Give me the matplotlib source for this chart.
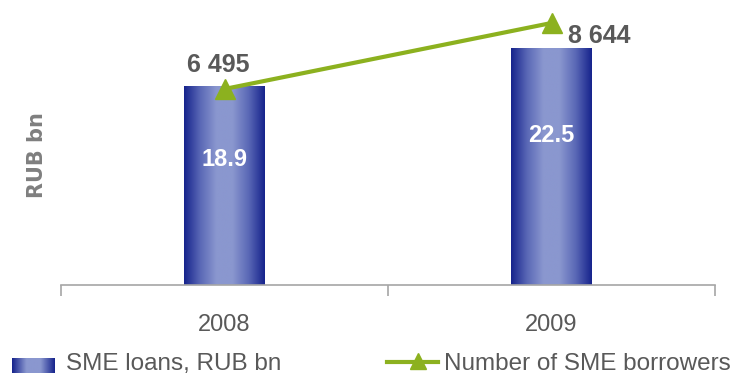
import numpy as np
import matplotlib
matplotlib.use("Agg")
from matplotlib import pyplot as plt
from matplotlib.colors import LinearSegmentedColormap
from matplotlib.lines import Line2D

years = ["2008", "2009"]
loans = [18.9, 22.5]            # SME loans, RUB bn
borrowers = [6495, 8644]        # number of SME borrowers
borrower_labels = ["6 495", "8 644"]

plt.rcParams['font.family'] = ['Liberation Sans', 'DejaVu Sans']

W, H = 742, 376
fig = plt.figure(figsize=(W / 100, H / 100), dpi=100)
ax = fig.add_axes([61 / W, (H - 285) / H, (715 - 61) / W, (285 - 10) / H])
ax2 = ax.twinx()

grey = "#595959"
green = "#8cb11f"
cmap = LinearSegmentedColormap.from_list(
    "barshade", ["#16238c", "#5a68b6", "#8a97cf", "#8a97cf", "#5a68b6", "#16238c"])
grad = np.linspace(0, 1, 256).reshape(1, -1)

x = np.arange(len(years))
width = 0.245
bars = ax.bar(x, loans, width, color="none", edgecolor="none", zorder=2)
for b, v in zip(bars, loans):
    x0, w, h = b.get_x(), b.get_width(), b.get_height()
    im = ax.imshow(grad, cmap=cmap, aspect="auto", extent=[x0, x0 + w, 0, h],
                   zorder=2, interpolation="bilinear")
    im.set_clip_path(b)
    ax.text(x0 + w / 2, h * 0.63, f"{v:.1f}", color="white", fontsize=17,
            fontweight="bold", ha="center", va="center", zorder=4)

ax.set_xlim(-0.5, 1.5)
ax.set_ylim(0, 26.1)
ax2.set_ylim(113, 9067)

ax2.plot(x, borrowers, color=green, lw=3, marker="^", markersize=15, zorder=5)
ax2.text(x[0] - 0.02, borrowers[0] + 780, borrower_labels[0], color=grey,
         fontsize=18, fontweight="bold", ha="center", va="center")
ax2.text(x[1] + 0.145, borrowers[1] - 430, borrower_labels[1], color=grey,
         fontsize=18, fontweight="bold", ha="center", va="center")

for a in (ax, ax2):
    for s in ("top", "right", "left"):
        a.spines[s].set_visible(False)
    a.set_yticks([])
ax2.spines["bottom"].set_visible(False)
ax.spines["bottom"].set_color("#a6a6a6")
ax.spines["bottom"].set_linewidth(1.2)
ax.set_xticks([-0.5, 0.5, 1.5], minor=True)
ax.tick_params(axis="x", which="minor", length=8, color="#a6a6a6", width=1.2,
               direction="out")
ax.set_xticks(x)
ax.set_xticklabels(years, fontsize=17, color=grey)
ax.tick_params(axis="x", which="major", length=0, pad=21)

fig.text(37 / W, 1 - 155 / H, "RUB bn", rotation=90, fontsize=15,
         fontweight="bold", color="#7f7f7f", ha="center", va="center",
         family=["DejaVu Sans"])

# legend drawn by hand
sw = fig.add_axes([12 / W, 1 - 373 / H, 43 / W, 15 / H])
sw.imshow(np.linspace(0, 1, 128).reshape(1, -1),
          cmap=LinearSegmentedColormap.from_list(
              "sw", ["#16238c", "#8a97cf", "#8a97cf", "#16238c"]),
          aspect="auto")
sw.set_axis_off()
fig.text(66 / W, 1 - 364 / H, "SME loans, RUB bn", fontsize=17.5, color=grey,
         va="center", ha="left")
fig.add_artist(Line2D([387 / W, 438 / W], [1 - 362 / H] * 2, color=green, lw=3,
                      transform=fig.transFigure))
fig.add_artist(Line2D([418 / W], [1 - 361 / H], color=green, marker="^",
                      markersize=12, transform=fig.transFigure))
fig.text(444 / W, 1 - 364 / H, "Number of SME borrowers", fontsize=17.5,
         color=grey, va="center", ha="left")

fig.savefig("out.png", dpi=100)
